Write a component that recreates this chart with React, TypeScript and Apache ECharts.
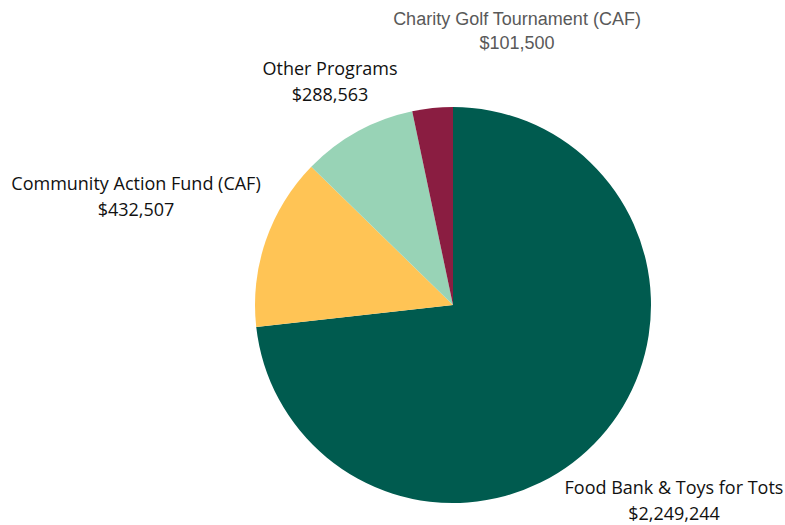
import React, { useEffect, useRef } from "react";
import * as echarts from "echarts";

const categories = [
  "Food Bank & Toys for Tots",
  "Community Action Fund (CAF)",
  "Other Programs",
  "Charity Golf Tournament (CAF)",
];
const values = [2249244, 432507, 288563, 101500];
const colors = ["#005B4F", "#FFC455", "#98D3B6", "#8A1D41"];
const labelPos = [
  [674, 500],
  [136, 196],
  [330, 81],
  [517, 31],
];

const fmt = (v: number) => "$" + v.toLocaleString("en-US");

export default function App() {
  const ref = useRef<HTMLDivElement>(null);
  useEffect(() => {
    if (!ref.current) return;
    const chart = echarts.init(ref.current, null, { renderer: "svg" });
    chart.setOption({
      animation: false,
      series: [
        {
          type: "pie",
          center: [453, 305],
          radius: [0, 198],
          startAngle: 90,
          clockwise: true,
          labelLine: { show: false },
          label: {
            show: true,
            position: "outside",
            alignTo: "none",
            overflow: "none",
            formatter: (p: any) => p.name + "\n" + fmt(p.value),
            fontFamily: "Open Sans",
            fontSize: 18,
            lineHeight: 26,
            color: "#111111",
            align: "center",
          },
          labelLayout: (p: any) => {
            const pos = labelPos[p.dataIndex];
            return { x: pos[0], y: pos[1], align: "center", verticalAlign: "middle", hideOverlap: false };
          },
          emphasis: { disabled: true },
          data: categories.map((c, i) => ({
            name: c,
            value: values[i],
            itemStyle: { color: colors[i] },
            label:
              i === 3
                ? {
                    fontFamily: "Liberation Sans",
                    color: "#595959",
                    fontSize: 18,
                    lineHeight: 24,
                  }
                : undefined,
          })),
        },
      ],
    });
    return () => chart.dispose();
  }, []);
  return (
    <div
      ref={ref}
      style={{ position: "fixed", left: 0, top: 0, width: 785, height: 525, background: "#fff" }}
    />
  );
}
